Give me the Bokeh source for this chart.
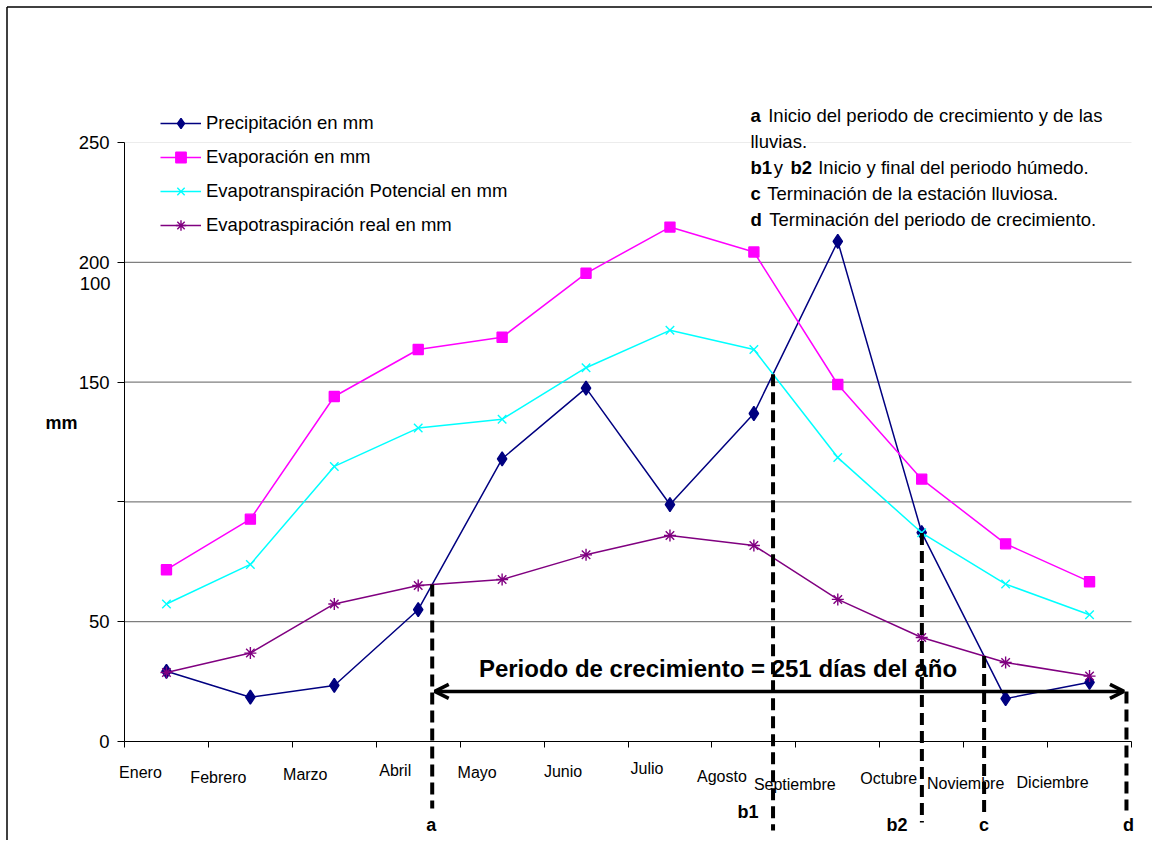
from bokeh.plotting import figure
from bokeh.models import Range1d, LinearAxis, FixedTicker, Arrow, OpenHead, ColumnDataSource
from bokeh.core.properties import value
from bokeh.embed import file_html
from bokeh.resources import INLINE

# ---------------- data ----------------
meses = ["Enero", "Febrero", "Marzo", "Abril", "Mayo", "Junio", "Julio",
         "Agosto", "Septiembre", "Octubre", "Noviembre", "Diciembre"]
precipitacion = [29.3, 18.5, 23.4, 55.0, 118.0, 147.5, 98.9, 136.9, 208.7, 87.2, 17.9, 24.7]
evaporacion = [71.7, 92.8, 144.0, 163.6, 168.7, 195.4, 214.7, 204.3, 149.0, 109.5, 82.5, 66.7]
evapotransp_potencial = [57.4, 73.9, 114.8, 130.8, 134.5, 156.0, 171.6, 163.6, 118.5, 87.1, 65.7, 52.9]
evapotransp_real = [28.8, 36.9, 57.4, 65.1, 67.6, 77.9, 86.0, 81.8, 59.3, 43.4, 33.0, 27.3]
y_ticks = [0, 50, 100, 150, 200, 250]
grid_values = [50, 100, 150, 200]
fin_crecimiento = 12.44          # d: end of the growing period (month units)
nivel_flecha = 20.9              # level of the growing-period arrow (mm)
texto_periodo = "Periodo de crecimiento = 251 días del año"

series_labels = ["Precipitación en mm", "Evaporación en mm",
                 "Evapotranspiración Potencial en mm", "Evapotraspiración real en mm"]

nota_textos = ["a", "Inicio del periodo de crecimiento y de las",
               "lluvias.",
               "b1", "y", "b2", "Inicio y final del periodo húmedo.",
               "c", "Terminación de la estación lluviosa.",
               "d", "Terminación del periodo de crecimiento."]
nota_estilos = ["bold", "normal", "normal", "bold", "normal", "bold", "normal",
                "bold", "normal", "bold", "normal"]

# ---------------- layout ----------------
W, H = 1152, 840
OX, OY = 0, 0                       # canvas origin on the page
X0_PX, X1_PX = 124, 1131            # page px of x = 0.5 and x = 12.5
Y0_PX, Y250_PX = 741, 142           # page px of y = 0 and y = 250
xpp = (X1_PX - X0_PX) / 12.0
ypp = (Y0_PX - Y250_PX) / 250.0
x_start = 0.5 - (X0_PX - OX) / xpp
x_end = x_start + W / xpp
y_end = (Y0_PX - OY) / ypp
y_start = y_end - H / ypp


def px2x(px):
    return 0.5 + (px - X0_PX) / xpp


def px2y(py):
    return (Y0_PX - py) / ypp


FONT = "Liberation Sans"

p = figure(width=W, height=H, x_range=Range1d(x_start, x_end), y_range=Range1d(y_start, y_end),
           output_backend="svg", toolbar_location=None, x_axis_type=None, y_axis_type=None,
           min_border=0, min_border_left=0, min_border_right=0, min_border_top=0, min_border_bottom=0)
p.outline_line_color = None
p.background_fill_color = "white"
p.border_fill_color = "white"

# chart border (top and left edges visible in the reference)
p.segment(x0=[px2x(6.5), px2x(6.5)], y0=[px2y(6.5), px2y(6.5)],
          x1=[x_end, px2x(6.5)], y1=[px2y(6.5), y_start],
          line_color="black", line_width=1.5)

# axes
yaxis = LinearAxis(fixed_location=0.5, bounds=(0, 250), ticker=FixedTicker(ticks=y_ticks),
                   major_label_overrides={100: ""}, major_tick_out=7, major_tick_in=0,
                   minor_tick_out=0, minor_tick_in=0, axis_line_color="black",
                   major_tick_line_color="black", major_label_text_font=FONT,
                   major_label_text_font_size="18.5px", major_label_standoff=8,
                   major_label_text_color="black")
p.add_layout(yaxis, "left")

x_bounds = [i + 0.5 for i in range(len(meses) + 1)]
xaxis = LinearAxis(fixed_location=0, bounds=(0.5, 12.5), ticker=FixedTicker(ticks=x_bounds),
                   major_tick_out=6, major_tick_in=0, minor_tick_out=0, minor_tick_in=0,
                   axis_line_color="black", major_tick_line_color="black",
                   major_label_text_color=None)
p.add_layout(xaxis, "below")

# gridlines limited to the plot area
p.segment(x0=0.5, y0=grid_values, x1=12.5, y1=grid_values, line_color="#5f5f5f", line_width=1)
p.segment(x0=[0.5], y0=[250], x1=[12.5], y1=[250], line_color="#ececec", line_width=1)

x = list(range(1, len(meses) + 1))

# series
styles = [
    (precipitacion, "#000080", "diamond", 14),
    (evaporacion, "#FF00FF", "square", 10),
    (evapotransp_potencial, "#00FFFF", "x", 12),
    (evapotransp_real, "#800080", "asterisk", 12),
]
for (vals, col, mk, sz), lab in zip(styles, series_labels):
    p.line(x, vals, line_color=col, line_width=1.5, legend_label=lab)
    p.scatter(x, vals, marker=mk, size=sz, fill_color=col, line_color=col, line_width=1.4,
              legend_label=lab)

lg = p.legend[0]
lg.location = (160 - OX, H - (238 - OY))
lg.glyph_width = 41
lg.glyph_height = 26
lg.spacing = 8
lg.padding = 0
lg.margin = 0
lg.label_standoff = 5
lg.label_height = 20
lg.label_text_font = FONT
lg.label_text_font_size = "18.5px"
lg.label_text_color = "black"
lg.border_line_color = None
lg.background_fill_alpha = 0


# ---------------- key points computed from the series ----------------
def cruce(a, b, i):
    """crossing of series a and b on segment [i, i+1] (0-based)"""
    d0 = a[i] - b[i]
    d1 = a[i + 1] - b[i + 1]
    t = d0 / (d0 - d1)
    return x[i] + t, a[i] + t * (a[i + 1] - a[i])


pa = cruce(precipitacion, evapotransp_real, 3)        # a
pb1 = cruce(precipitacion, evapotransp_potencial, 7)  # b1
pb2 = cruce(precipitacion, evapotransp_potencial, 9)  # b2
pc = cruce(precipitacion, evapotransp_real, 9)        # c
pd = (fin_crecimiento, nivel_flecha)                  # d
puntos = [pa, pb1, pb2, pc, pd]
letras = ["a", "b1", "b2", "c", "d"]

# growing period text
p.text(x=[px2x(717.5)], y=[px2y(668)], text=[texto_periodo], text_font=value(FONT),
       text_font_size="24px", text_font_style="bold", text_color="black",
       text_align="center", text_baseline="middle")

# dashed verticals
bottoms_px = [808, 830, 822, 815, 810]
p.segment(x0=[q[0] for q in puntos], y0=[q[1] for q in puntos],
          x1=[q[0] for q in puntos], y1=[px2y(b) for b in bottoms_px],
          line_color="black", line_width=4, line_dash="12 6")

# letters below
let_dx = [-1, -25, -25, 0, 2]
let_py = [824, 811, 824, 824, 824]
p.text(x=[q[0] for q in puntos], y=[px2y(v) for v in let_py], text=letras, x_offset=let_dx,
       text_font=value(FONT), text_font_size="18px", text_font_style="bold", text_color="black",
       text_align="center", text_baseline="middle")

# arrow
p.add_layout(Arrow(start=OpenHead(size=14, line_width=3.5, line_color="black"),
                   end=OpenHead(size=14, line_width=3.5, line_color="black"),
                   x_start=pa[0] + 0.03, y_start=nivel_flecha, x_end=fin_crecimiento - 0.03,
                   y_end=nivel_flecha, line_width=3.5, line_color="black"))

# month labels
month_dx = [-26, -32, -29, -23, -25, -23, -23, -32, -43, -33, -40, -37]
month_dy = [31, 36, 33, 29, 31, 30, 27, 35, 43, 37, 42, 41]
p.text(x=x, y=[px2y(Y0_PX + d) for d in month_dy], text=meses, x_offset=month_dx,
       text_font=value(FONT), text_font_size="16px", text_color="black",
       text_align="center", text_baseline="middle")

# y-axis extras
p.text(x=[px2x(110)], y=[px2y(283)], text=["100"], text_font=value(FONT), text_font_size="18.5px",
       text_color="black", text_align="right", text_baseline="middle")
p.text(x=[px2x(61)], y=[px2y(422)], text=["mm"], text_font=value(FONT), text_font_size="18px",
       text_font_style="bold", text_color="black", text_align="center", text_baseline="middle")

# notes
nota_px = [(750, 115), (767.7, 115), (750, 141), (750, 167), (773.3, 167), (790, 167),
           (817.7, 167), (750, 193), (766.7, 193), (750, 219), (768.7, 219)]
src_notas = ColumnDataSource(dict(x=[px2x(a) for a, b in nota_px], y=[px2y(b) for a, b in nota_px],
                                  t=nota_textos, s=nota_estilos))
p.text(x="x", y="y", text="t", text_font_style="s", source=src_notas, text_font=value(FONT),
       text_font_size="18.5px", text_color="black", text_align="left", text_baseline="middle")

open("out.html", "w").write(file_html(p, INLINE))
